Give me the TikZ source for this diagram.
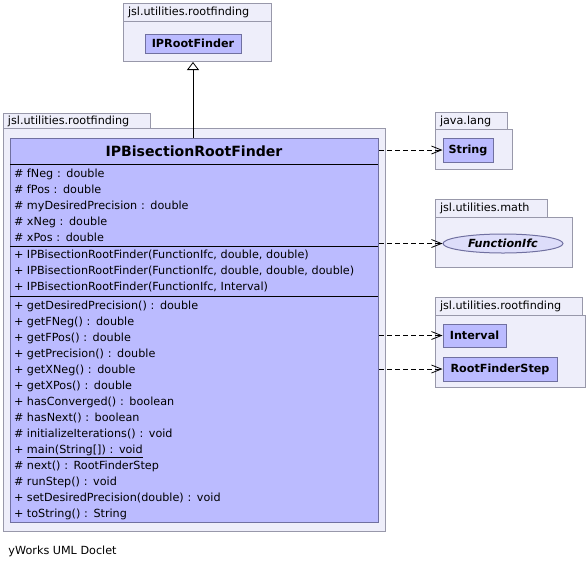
\documentclass[tikz,border=0pt]{standalone}
\usepackage{fontspec}
\setmainfont{DejaVu Sans}
\usetikzlibrary{chains,positioning,arrows.meta,shapes.geometric}
\definecolor{pkgfill}{RGB}{238,238,250}
\definecolor{pkgline}{RGB}{152,152,170}
\definecolor{clsfill}{RGB}{187,187,255}
\definecolor{clsline}{RGB}{112,112,160}
\definecolor{ifcfill}{RGB}{221,221,250}
\newcommand{\vis}[1]{\makebox[13pt][l]{#1}}
\tikzstyle{pkgtab}=[draw=pkgline,fill=pkgfill,anchor=north west,inner xsep=4.5pt,inner ysep=0pt,align=left,text height=8.5pt,text depth=2.5pt]
\tikzstyle{pkgbody}=[draw=pkgline,fill=pkgfill,anchor=north west,inner sep=0pt]
\tikzstyle{cls}=[draw=clsline,fill=clsfill,inner sep=0pt,font=\fontsize{11.2}{13}\selectfont\bfseries]
\tikzstyle{member}=[on chain,text width=360pt,inner xsep=0pt,inner ysep=0pt,outer sep=0pt,minimum height=16pt,text height=8.5pt,text depth=2.5pt,align=left]
\tikzstyle{sep}=[draw=black,line width=1pt]
\tikzstyle{dep}=[draw=black,line width=0.8pt,dash pattern=on 5pt off 3pt,-{Straight Barb[length=10pt,width=8pt]}]
\tikzstyle{gen}=[draw=black,line width=0.8pt,-{Triangle[open,length=8pt,width=12pt,fill=white]}]

\begin{document}
\begin{tikzpicture}[x=1pt,y=-1pt,font=\fontsize{11.2}{13}\selectfont,line width=1pt]
\useasboundingbox (0,0) rectangle (588,568);

% packages
\node[pkgtab,text width=139pt,minimum height=18pt] (toptab) at (123,3) {jsl.utilities.rootfinding};
\node[pkgbody,minimum width=148pt,minimum height=40pt] (toppkg) at (123,21) {};
\node[pkgtab,text width=138pt,minimum height=15pt] (maintab) at (3,113) {jsl.utilities.rootfinding};
\node[pkgbody,minimum width=382pt,minimum height=403pt] (mainpkg) at (3,128) {};
\node[pkgtab,text width=63pt,minimum height=17pt] (langtab) at (435,112) {java.lang};
\node[pkgbody,minimum width=77pt,minimum height=40pt] (langpkg) at (435,129) {};
\node[pkgtab,text width=103pt,minimum height=18pt] (mathtab) at (435,199) {jsl.utilities.math};
\node[pkgbody,minimum width=137pt,minimum height=50pt] (mathpkg) at (435,217) {};
\node[pkgtab,text width=138pt,minimum height=18pt] (rftab) at (435,297) {jsl.utilities.rootfinding};
\node[pkgbody,minimum width=150pt,minimum height=72pt] (rfpkg) at (435,315) {};

% classes
\node[cls,minimum width=96pt,minimum height=19pt] (rootfinder) at (193,43.5) {IPRootFinder};
\node[cls,minimum width=50pt,minimum height=24pt] (string) at (468,150) {String};
\node[cls,ellipse,fill=ifcfill,minimum width=120pt,minimum height=19pt,font=\fontsize{11.2}{13}\selectfont\bfseries\itshape] (ifc) at (503,243.5) {FunctionIfc};
\node[cls,minimum width=63pt,minimum height=23pt] (interval) at (474.5,335.5) {Interval};
\node[cls,minimum width=114pt,minimum height=24pt] (step) at (500,369) {RootFinderStep};

\node[cls,anchor=north west,minimum width=368pt,minimum height=384pt] (finder) at (10,138) {};
\node[font=\fontsize{14.1}{16}\selectfont\bfseries] (title) at (194,151.5) {IPBisectionRootFinder};
\draw[sep] (10,164.5) -- (378,164.5);
\draw[sep] (10,246) -- (378,246);
\draw[sep] (10,296) -- (378,296);

\begin{scope}[start chain=attrs going below,node distance=0pt]
    \node[member] (fneg) at (194,174) {\vis{\#}fNeg : double};
    \node[member] (fpos) {\vis{\#}fPos : double};
    \node[member] (prec) {\vis{\#}myDesiredPrecision : double};
    \node[member] (xneg) {\vis{\#}xNeg : double};
    \node[member] (xpos) {\vis{\#}xPos : double};
\end{scope}
\begin{scope}[start chain=ctors going below,node distance=0pt]
    \node[member] (ctora) at (194,255) {\vis{+}IPBisectionRootFinder(FunctionIfc, double, double)};
    \node[member] (ctorb) {\vis{+}IPBisectionRootFinder(FunctionIfc, double, double, double)};
    \node[member] (ctorc) {\vis{+}IPBisectionRootFinder(FunctionIfc, Interval)};
\end{scope}
\begin{scope}[start chain=ops going below,node distance=0pt]
    \node[member] (getprec) at (194,306) {\vis{+}getDesiredPrecision() : double};
    \node[member] (getfneg) {\vis{+}getFNeg() : double};
    \node[member] (getfpos) {\vis{+}getFPos() : double};
    \node[member] (getp) {\vis{+}getPrecision() : double};
    \node[member] (getxneg) {\vis{+}getXNeg() : double};
    \node[member] (getxpos) {\vis{+}getXPos() : double};
    \node[member] (conv) {\vis{+}hasConverged() : boolean};
    \node[member] (hasnext) {\vis{\#}hasNext() : boolean};
    \node[member] (init) {\vis{\#}initializeIterations() : void};
    \node[member] (mainop) {\vis{+}\underline{main(String[]) : void}};
    \node[member] (next) {\vis{\#}next() : RootFinderStep};
    \node[member] (run) {\vis{\#}runStep() : void};
    \node[member] (setprec) {\vis{+}setDesiredPrecision(double) : void};
    \node[member] (tostr) {\vis{+}toString() : String};
\end{scope}

% connectors
\draw[gen] (finder.north -| rootfinder.south) -- (toppkg.south -| rootfinder.south);
\draw[dep] (finder.east |- string.west) -- (string.west);
\draw[dep] (finder.east |- ifc.west) -- (ifc.west);
\draw[dep] (finder.east |- interval.west) -- (interval.west);
\draw[dep] (finder.east |- step.west) -- (step.west);

\node[anchor=west,inner sep=0pt] (doclet) at (8,551) {yWorks UML Doclet};
\end{tikzpicture}
\end{document}
